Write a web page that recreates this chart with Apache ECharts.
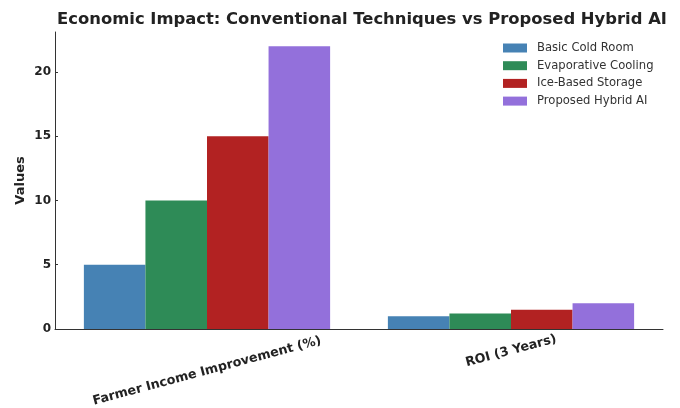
<!DOCTYPE html>
<html>
<head>
<meta charset="utf-8">
<script src="https://cdn.jsdelivr.net/npm/echarts@6/dist/echarts.min.js"></script>
<style>html,body{margin:0;padding:0;background:#fff}#c{width:680px;height:408px}</style>
</head>
<body>
<div id="c"></div>
<script>
const categories = ['Farmer Income Improvement (%)', 'ROI (3 Years)'];
const seriesNames = ['Basic Cold Room', 'Evaporative Cooling', 'Ice-Based Storage', 'Proposed Hybrid AI'];
const basicColdRoom = [5, 1.0];
const evaporativeCooling = [10, 1.2];
const iceBasedStorage = [15, 1.5];
const proposedHybridAI = [22, 2.0];
const yTicks = [0, 5, 10, 15, 20];
const colors = ['#4682B4', '#2E8B57', '#B22222', '#9370DB'];

const values = [basicColdRoom, evaporativeCooling, iceBasedStorage, proposedHybridAI];
const labelFont = {fontFamily: 'DejaVu Sans', fontWeight: 'bold', fontSize: 12.7, color: '#222'};
const chart = echarts.init(document.getElementById('c'), null, {renderer: 'canvas'});
chart.setOption({
  animation: false,
  title: {
    text: 'Economic Impact: Conventional Techniques vs Proposed Hybrid AI',
    left: 357, textAlign: 'center', top: 7,
    textStyle: {fontFamily: 'DejaVu Sans', fontWeight: 'bold', fontSize: 16.4, color: '#222'}
  },
  legend: {
    orient: 'vertical', left: 498, top: 37,
    itemWidth: 24, itemHeight: 9, itemGap: 5.7,
    icon: 'rect',
    textStyle: {fontFamily: 'DejaVu Sans', fontSize: 11.6, color: '#333', padding: [0, 0, 0, 5]},
    data: seriesNames
  },
  grid: {left: 55, right: 17, top: 32, bottom: 79, containLabel: false, outerBoundsMode: 'none'},
  xAxis: [{
    type: 'category',
    data: categories,
    axisLine: {lineStyle: {color: '#333', width: 1}},
    axisTick: {show: false},
    axisLabel: Object.assign({
      interval: 0, rotate: 15, align: 'center', verticalAlign: 'middle', margin: 42,
      formatter: (v, i) => i === 0 ? v : ''
    }, labelFont),
    splitLine: {show: false}
  }, {
    type: 'category',
    position: 'bottom',
    data: categories,
    axisLine: {show: false},
    axisTick: {show: false},
    axisLabel: Object.assign({
      interval: 0, rotate: 15, align: 'center', verticalAlign: 'middle', margin: 22,
      formatter: (v, i) => i === 1 ? v : ''
    }, labelFont),
    splitLine: {show: false}
  }],
  yAxis: {
    type: 'value', min: 0, max: 23.1, interval: 5,
    name: 'Values', nameLocation: 'middle', nameGap: 28, nameMoveOverlap: false,
    nameTextStyle: {fontFamily: 'DejaVu Sans', fontWeight: 'bold', fontSize: 13, color: '#222'},
    axisLine: {show: true, lineStyle: {color: '#333', width: 1}},
    axisTick: {show: true, inside: true, length: 3, lineStyle: {color: '#333'}, customValues: yTicks},
    axisLabel: {fontFamily: 'DejaVu Sans', fontWeight: 'bold', fontSize: 12, color: '#222', margin: 4, customValues: yTicks},
    splitLine: {show: false}
  },
  series: seriesNames.map((n, i) => ({
    name: n, type: 'bar', data: values[i], xAxisIndex: 0,
    barGap: 0, barCategoryGap: '19%',
    itemStyle: {color: colors[i]}
  }))
});
</script>
</body>
</html>
